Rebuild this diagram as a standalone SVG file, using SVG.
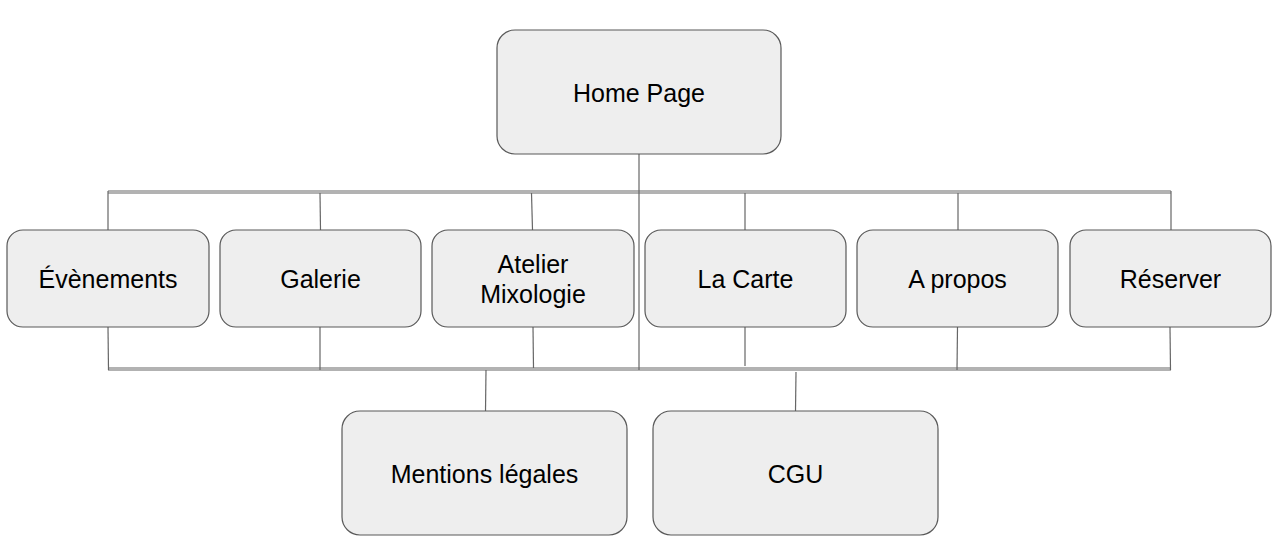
<svg xmlns="http://www.w3.org/2000/svg" width="1280" height="558" viewBox="0 0 1280 558">
<style>
.box{fill:#eeeeee;stroke:#595959;stroke-width:1.2}
.t{font-family:"Liberation Sans",Arial,sans-serif;font-size:25px;fill:#000;text-anchor:middle;dominant-baseline:central}
.c{stroke:#666666;stroke-width:1.2;fill:none}
.bar{stroke:#666666;stroke-width:1.2;fill:none}
</style>
<rect width="1280" height="558" fill="#ffffff"/>
<g id="connectors">
<line class="c" x1="639" y1="154" x2="639" y2="370"/>
<line class="bar" x1="108" y1="191" x2="1171" y2="191"/>
<line class="bar" x1="108" y1="193" x2="1171" y2="193"/>
<line class="c" x1="108" y1="191" x2="108" y2="230"/>
<line class="c" x1="320" y1="193" x2="320.5" y2="230"/>
<line class="c" x1="531.5" y1="193" x2="532.5" y2="230"/>
<line class="c" x1="745" y1="193" x2="745" y2="230"/>
<line class="c" x1="958" y1="193" x2="958" y2="230"/>
<line class="c" x1="1171" y1="191" x2="1171" y2="230"/>
<line class="bar" x1="108" y1="368" x2="1171" y2="368"/>
<line class="bar" x1="108" y1="370" x2="1171" y2="370"/>
<line class="c" x1="108" y1="327" x2="108.5" y2="370"/>
<line class="c" x1="320" y1="327" x2="320" y2="370"/>
<line class="c" x1="533" y1="327" x2="533.5" y2="368"/>
<line class="c" x1="745" y1="327" x2="745" y2="366"/>
<line class="c" x1="957.5" y1="327" x2="957" y2="370"/>
<line class="c" x1="1170" y1="327" x2="1170.5" y2="370"/>
<line class="c" x1="486" y1="370" x2="485.5" y2="411"/>
<line class="c" x1="796" y1="372" x2="795.5" y2="411"/>
</g>
<g id="home"><rect class="box" x="497" y="30" width="284" height="124" rx="18"/><text class="t" x="639" y="93">Home Page</text></g>
<g id="evenements"><rect class="box" x="7" y="230" width="202" height="97" rx="16"/><text class="t" x="108" y="279">Évènements</text></g>
<g id="galerie"><rect class="box" x="220" y="230" width="201" height="97" rx="16"/><text class="t" x="320.5" y="279">Galerie</text></g>
<g id="atelier"><rect class="box" x="432" y="230" width="202" height="97" rx="16"/><text class="t" x="533" y="264">Atelier</text><text class="t" x="533" y="294">Mixologie</text></g>
<g id="lacarte"><rect class="box" x="645" y="230" width="201" height="97" rx="16"/><text class="t" x="745.5" y="279">La Carte</text></g>
<g id="apropos"><rect class="box" x="857" y="230" width="201" height="97" rx="16"/><text class="t" x="957.5" y="279">A propos</text></g>
<g id="reserver"><rect class="box" x="1070" y="230" width="201" height="97" rx="16"/><text class="t" x="1170.5" y="279">Réserver</text></g>
<g id="mentions"><rect class="box" x="342" y="411" width="285" height="124" rx="18"/><text class="t" x="484.5" y="474">Mentions légales</text></g>
<g id="cgu"><rect class="box" x="653" y="411" width="285" height="124" rx="18"/><text class="t" x="795.5" y="474">CGU</text></g>
</svg>
